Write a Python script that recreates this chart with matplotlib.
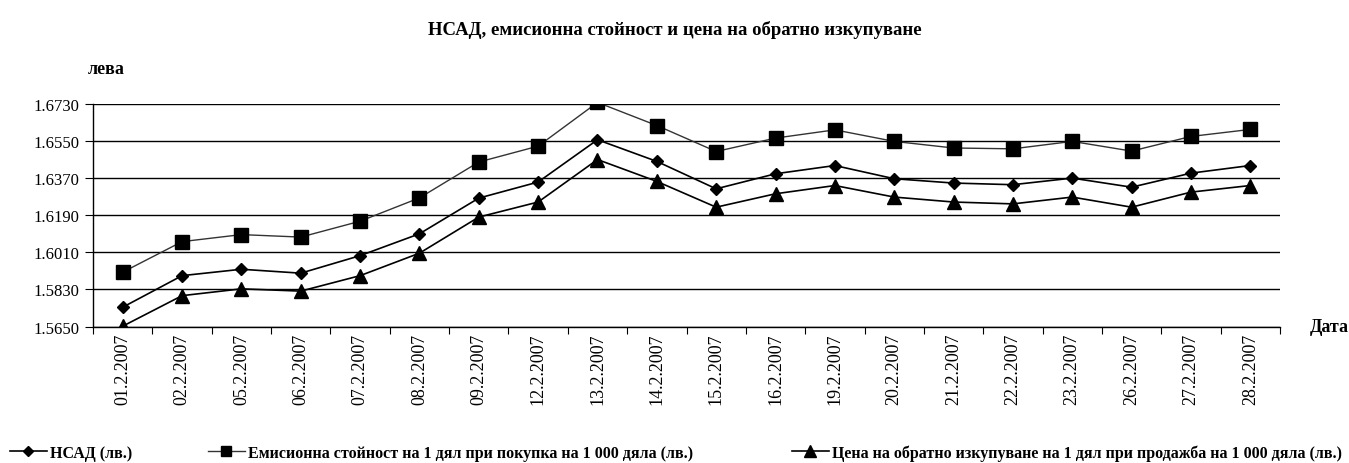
import matplotlib.pyplot as plt
from matplotlib.ticker import FixedLocator, NullFormatter

plt.rcParams['font.family'] = ['Liberation Serif', 'DejaVu Serif']

# dates and values
dates = ['01.2.2007', '02.2.2007', '05.2.2007', '06.2.2007', '07.2.2007',
         '08.2.2007', '09.2.2007', '12.2.2007', '13.2.2007', '14.2.2007',
         '15.2.2007', '16.2.2007', '19.2.2007', '20.2.2007', '21.2.2007',
         '22.2.2007', '23.2.2007', '26.2.2007', '27.2.2007', '28.2.2007']

nsad = [1.5744, 1.5897, 1.5928, 1.5909, 1.5994, 1.6100, 1.6273, 1.6351, 1.6556, 1.6451,
        1.6318, 1.6391, 1.6431, 1.6367, 1.6346, 1.6338, 1.6370, 1.6326, 1.6394, 1.6431]
emission = [1.5914, 1.6062, 1.6096, 1.6084, 1.6161, 1.6274, 1.6448, 1.6525, 1.6737, 1.6625,
            1.6499, 1.6564, 1.6604, 1.6548, 1.6516, 1.6512, 1.6548, 1.6501, 1.6572, 1.6606]
redemption = [1.5652, 1.5800, 1.5833, 1.5822, 1.5897, 1.6006, 1.6181, 1.6254, 1.6460, 1.6354,
              1.6229, 1.6294, 1.6334, 1.6278, 1.6254, 1.6245, 1.6278, 1.6229, 1.6302, 1.6334]

yticks = [1.5650, 1.5830, 1.6010, 1.6190, 1.6370, 1.6550, 1.6730]

labels = ['НСАД (лв.)',
          'Емисионна стойност на 1 дял при покупка на 1 000 дяла (лв.)',
          'Цена на обратно изкупуване на 1 дял при продажба на 1 000 дяла (лв.)']

fig = plt.figure(figsize=(13.49, 4.64), dpi=100)
ax = fig.add_axes([0.069, 0.294, 0.8798, 0.480])

x = list(range(len(dates)))
l1, = ax.plot(x, nsad, color='black', lw=1.2, marker='D', ms=6.5, zorder=3)
l2, = ax.plot(x, emission, color='#333333', lw=1.0, marker='s', ms=9.5,
              markerfacecolor='black', markeredgecolor='black', zorder=3)
l3, = ax.plot(x, redemption, color='black', lw=1.2, marker='^', ms=10, zorder=3)

ax.set_xlim(-0.5, len(dates) - 0.5)
ax.set_ylim(yticks[0], yticks[-1])
ax.set_yticks(yticks)
ax.set_yticklabels([f'{v:.4f}' for v in yticks], fontsize=12)
ax.yaxis.grid(True, color='black', lw=1.0)
ax.set_axisbelow(True)

# tick marks between categories, labels at the centres
ax.xaxis.set_major_locator(FixedLocator([i - 0.5 for i in range(len(dates) + 1)]))
ax.xaxis.set_major_formatter(NullFormatter())
ax.xaxis.set_minor_locator(FixedLocator(x))
ax.set_xticklabels(dates, minor=True, rotation=90, fontsize=13)
ax.tick_params(axis='x', which='major', length=5, direction='out', color='black')
ax.tick_params(axis='x', which='minor', length=0, pad=4.3)
ax.tick_params(axis='y', length=6, direction='out', pad=4)

for s in ['top', 'right']:
    ax.spines[s].set_visible(False)
for s in ['left', 'bottom']:
    ax.spines[s].set_color('black')
    ax.spines[s].set_linewidth(1.0)

fig.text(0.5, 0.935, 'НСАД, емисионна стойност и цена на обратно изкупуване',
         ha='center', va='center', fontsize=13.5, fontweight='bold')
fig.text(0.065, 0.851, 'лева', ha='left', va='center', fontsize=13, fontweight='bold')
fig.text(0.971, 0.294, 'Дата', ha='left', va='center', fontsize=13, fontweight='bold')

# legend entries along the bottom
for h, lab, xpos in [(l1, labels[0], 10), (l2, labels[1], 208), (l3, labels[2], 792)]:
    fig.legend([h], [lab], loc='center left', bbox_to_anchor=(xpos / 1349, 0.022),
               frameon=False, handlelength=2.3, handletextpad=0.2, borderaxespad=0,
               borderpad=0, prop={'size': 11.5, 'weight': 'bold'}, markerscale=0.8)

fig.savefig('out.png', dpi=100)
